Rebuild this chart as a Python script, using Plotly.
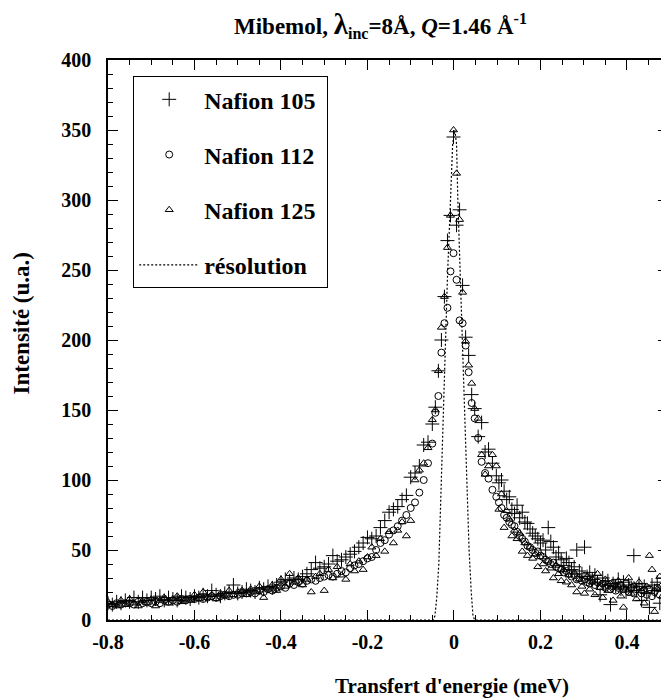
import plotly.graph_objects as go

# Energy transfer channels (meV)
energy = [
    -0.80, -0.79, -0.78, -0.77, -0.76, -0.75, -0.74, -0.73, -0.72, -0.71, -0.70,
    -0.69, -0.68, -0.67, -0.66, -0.65, -0.64, -0.63, -0.62, -0.61, -0.60,
    -0.59, -0.58, -0.57, -0.56, -0.55, -0.54, -0.53, -0.52, -0.51, -0.50,
    -0.49, -0.48, -0.47, -0.46, -0.45, -0.44, -0.43, -0.42, -0.41, -0.40,
    -0.39, -0.38, -0.37, -0.36, -0.35, -0.34, -0.33, -0.32, -0.31, -0.30,
    -0.29, -0.28, -0.27, -0.26, -0.25, -0.24, -0.23, -0.22, -0.21, -0.20,
    -0.19, -0.18, -0.17, -0.16, -0.15, -0.14, -0.13, -0.12, -0.11, -0.10,
    -0.09, -0.08, -0.07, -0.06, -0.05, -0.043, -0.036, -0.029, -0.022, -0.015,
    -0.008, -0.001, 0.006, 0.013, 0.020, 0.027, 0.034, 0.041, 0.048, 0.056,
    0.064, 0.072, 0.080, 0.089, 0.098,
    0.104, 0.110, 0.116, 0.122, 0.128, 0.134, 0.140, 0.146, 0.152, 0.158,
    0.164, 0.170, 0.176, 0.182, 0.188, 0.194, 0.200, 0.206, 0.212, 0.218,
    0.224, 0.230, 0.236, 0.242, 0.248, 0.254, 0.260, 0.266, 0.272, 0.278,
    0.284, 0.290, 0.296, 0.302, 0.308, 0.314, 0.320, 0.326, 0.332, 0.338,
    0.344, 0.350, 0.356, 0.362, 0.368, 0.374, 0.380, 0.386, 0.392, 0.398,
    0.404, 0.410, 0.416, 0.422, 0.428, 0.434, 0.440, 0.446, 0.452, 0.458,
    0.464, 0.470, 0.476, 0.482, 0.488, 0.494,
]

nafion105 = [
    12, 11, 13, 12, 14, 13, 16, 13, 16, 14, 16,
    15, 17, 14, 16, 15, 14, 17, 16, 15, 17,
    16, 18, 17, 21, 18, 17, 19, 20, 25, 19,
    20, 22, 21, 20, 23, 22, 24, 23, 25, 27,
    29, 28, 30, 29, 31, 33, 36, 41, 37, 38,
    40, 46, 42, 43, 45, 47, 49, 52, 55, 59,
    58, 60, 66, 71, 77, 79, 81, 86, 89, 102,
    105, 110, 125, 127, 140, 152, 178, 200, 231, 271,
    289, 345, 282, 293, 239, 202, 189, 161, 151, 131,
    141, 120, 122, 112, 103,
    98, 100, 92, 86, 88, 79, 76, 82, 73, 77,
    70, 69, 65, 62, 60, 58, 55, 57, 50, 66,
    56, 52, 45, 48, 43, 39, 44, 41, 36, 38,
    50, 35, 33, 52, 31, 34, 29, 32, 27, 18,
    30, 25, 28, 11, 26, 24, 29, 22, 27, 20,
    25, 23, 46, 21, 26, 14, 24, 19, 9, 25,
    21, 27, 12, 22, 30, 18,
]

nafion112 = [
    11, 10, 12, 11, 12, 12, 11, 13, 12, 13, 12,
    13, 12, 14, 13, 14, 13, 15, 14, 15, 15,
    16, 15, 16, 17, 16, 17, 18, 17, 18, 18,
    19, 19, 20, 19, 21, 20, 22, 21, 23, 24,
    23, 26, 25, 27, 26, 28, 29, 28, 30, 31,
    32, 31, 33, 35, 34, 37, 39, 40, 42, 44,
    45, 50, 55, 57, 61, 64, 67, 71, 75, 80,
    84, 91, 100, 112, 126, 148, 160, 191, 212, 223,
    249, 262, 243, 214, 212, 196, 177, 155, 144, 130,
    113, 105, 101, 93, 88,
    84, 80, 75, 73, 70, 68, 67, 63, 60, 58,
    56, 53, 52, 50, 48, 49, 46, 45, 43, 42,
    40, 41, 38, 37, 36, 34, 35, 33, 31, 32,
    29, 30, 28, 29, 27, 26, 28, 25, 27, 24,
    26, 23, 25, 22, 24, 21, 23, 25, 22, 26,
    20, 23, 19, 22, 24, 19, 21, 18, 22, 17,
    20, 23, 18, 24, 19, 21,
]

nafion125 = [
    13, 11, 10, 14, 11, 15, 12, 10, 14, 12, 15,
    10, 14, 16, 12, 15, 17, 13, 15, 14, 18,
    15, 20, 16, 18, 15, 19, 17, 21, 18, 20,
    21, 18, 22, 20, 24, 16, 22, 25, 21, 29,
    24, 33, 27, 30, 25, 29, 20, 31, 33, 21,
    36, 30, 38, 32, 29, 40, 35, 42, 36, 45,
    52, 46, 58, 49, 63, 55, 64, 70, 60, 71,
    100, 107, 112, 123, 143, 150, 178, 209, 231, 266,
    289, 350, 319, 286, 234, 199, 182, 169, 151, 144,
    118, 104, 110, 118, 110,
    79, 90, 66, 78, 72, 60, 64, 58, 62, 49,
    55, 46, 52, 44, 47, 38, 45, 40, 35, 42,
    37, 30, 39, 33, 28, 36, 27, 32, 25, 34,
    20, 29, 24, 19, 31, 22, 27, 18, 33, 23,
    16, 29, 21, 26, 14, 24, 28, 17, 9, 22,
    30, 19, 25, 15, 27, 21, 12, 24, 46, 36,
    6, 22, 31, 17, 25, 14,
]

# Instrumental resolution curve
res_energy = [-0.80, -0.060, -0.048, -0.044, -0.040, -0.035, -0.031, -0.027, -0.021,
              -0.015, -0.008, -0.003, 0.002, 0.006, 0.009, 0.014, 0.020, 0.025,
              0.029, 0.035, 0.040, 0.044, 0.048, 0.060, 0.495]
res_intensity = [0, 0, 0, 3, 15, 40, 80, 130, 190,
                 245, 300, 340, 350, 340, 300, 250, 200, 150,
                 100, 50, 20, 3, 0, 0, 0]

# Tick labels
x_tick_vals = [-0.8, -0.6, -0.4, -0.2, 0.0, 0.2, 0.4]
x_tick_text = ["-0.8", "-0.6", "-0.4", "-0.2", "0", "0.2", "0.4"]
y_tick_vals = [0, 50, 100, 150, 200, 250, 300, 350, 400]
y_tick_text = ["0", "50", "100", "150", "200", "250", "300", "350", "400"]

assert len(energy) == len(nafion105) == len(nafion112) == len(nafion125)

FONT = "Liberation Serif"

fig = go.Figure()
fig.add_trace(go.Scatter(
    x=energy, y=nafion105, mode="markers", name="<b>Nafion 105</b>\u00a0",
    legendgroup="a",
    marker=dict(symbol="cross-thin-open", size=10, color="black",
                line=dict(color="black", width=1)),
))
fig.add_trace(go.Scatter(
    x=energy, y=nafion112, mode="markers", name="<b>Nafion 112</b>",
    legendgroup="b",
    marker=dict(symbol="circle-open", size=7, color="black",
                line=dict(color="black", width=1)),
))
fig.add_trace(go.Scatter(
    x=energy, y=nafion125, mode="markers", name="<b>Nafion 125</b>",
    legendgroup="c",
    marker=dict(symbol="triangle-up-open", size=7, color="black",
                line=dict(color="black", width=1)),
))
fig.add_trace(go.Scatter(
    x=res_energy, y=res_intensity, mode="lines", name="<b>résolution</b>",
    legendgroup="d",
    line=dict(color="black", width=1.2, dash="2px,2px"),
))

axis_common = dict(
    showline=True, linecolor="black", linewidth=1.5, mirror="allticks",
    ticks="inside", tickcolor="black", tickwidth=1.2, ticklen=10,
    showgrid=False, zeroline=False, automargin=False,
    tickfont=dict(family=FONT, size=20, color="black", weight="bold"),
)

# The page body adds an 8 px offset, so the figure is 8 px smaller than the window
fig.update_layout(
    width=661, height=692,
    paper_bgcolor="white", plot_bgcolor="white",
    margin=dict(l=100, r=1, t=52, b=80),
    font=dict(family=FONT, color="black"),
    xaxis=dict(
        range=[-0.8, 0.495],
        tickmode="array", tickvals=x_tick_vals, ticktext=x_tick_text,
        minor=dict(ticks="inside", dtick=0.05, tick0=0, ticklen=5,
                   tickcolor="black", tickwidth=1),
        ticklabelstandoff=3,
        **axis_common,
    ),
    yaxis=dict(
        range=[0, 400],
        tickmode="array", tickvals=y_tick_vals, ticktext=y_tick_text,
        minor=dict(ticks="inside", dtick=10, tick0=0, ticklen=5,
                   tickcolor="black", tickwidth=1),
        ticklabelstandoff=11,
        **axis_common,
    ),
    legend=dict(
        x=0.045, y=0.971, xanchor="left", yanchor="top",
        bgcolor="white", bordercolor="black", borderwidth=1,
        font=dict(family=FONT, size=24, color="black"),
        itemwidth=60, tracegroupgap=21,
    ),
    showlegend=True,
    annotations=[
        dict(text="<b>Mibemol, <span style='font-size:29px'>λ</span><sub>inc</sub>=8Å, <i>Q</i>=1.46 Å<sup>-1</sup></b>",
             xref="paper", yref="paper", x=0.486, y=1.062,
             xanchor="center", yanchor="middle", showarrow=False,
             font=dict(family=FONT, size=23, color="black")),
        dict(text="<b>Transfert d'energie (meV)</b>",
             xref="paper", yref="paper", x=0.614, y=-0.118,
             xanchor="center", yanchor="middle", showarrow=False,
             font=dict(family=FONT, size=21, color="black")),
        dict(text="<b>Intensité (u.a.)</b>",
             xref="paper", yref="paper", x=-0.154, y=0.529, textangle=-90,
             xanchor="center", yanchor="middle", showarrow=False,
             font=dict(family=FONT, size=23, color="black")),
    ],
)

fig.write_html("out.html")
